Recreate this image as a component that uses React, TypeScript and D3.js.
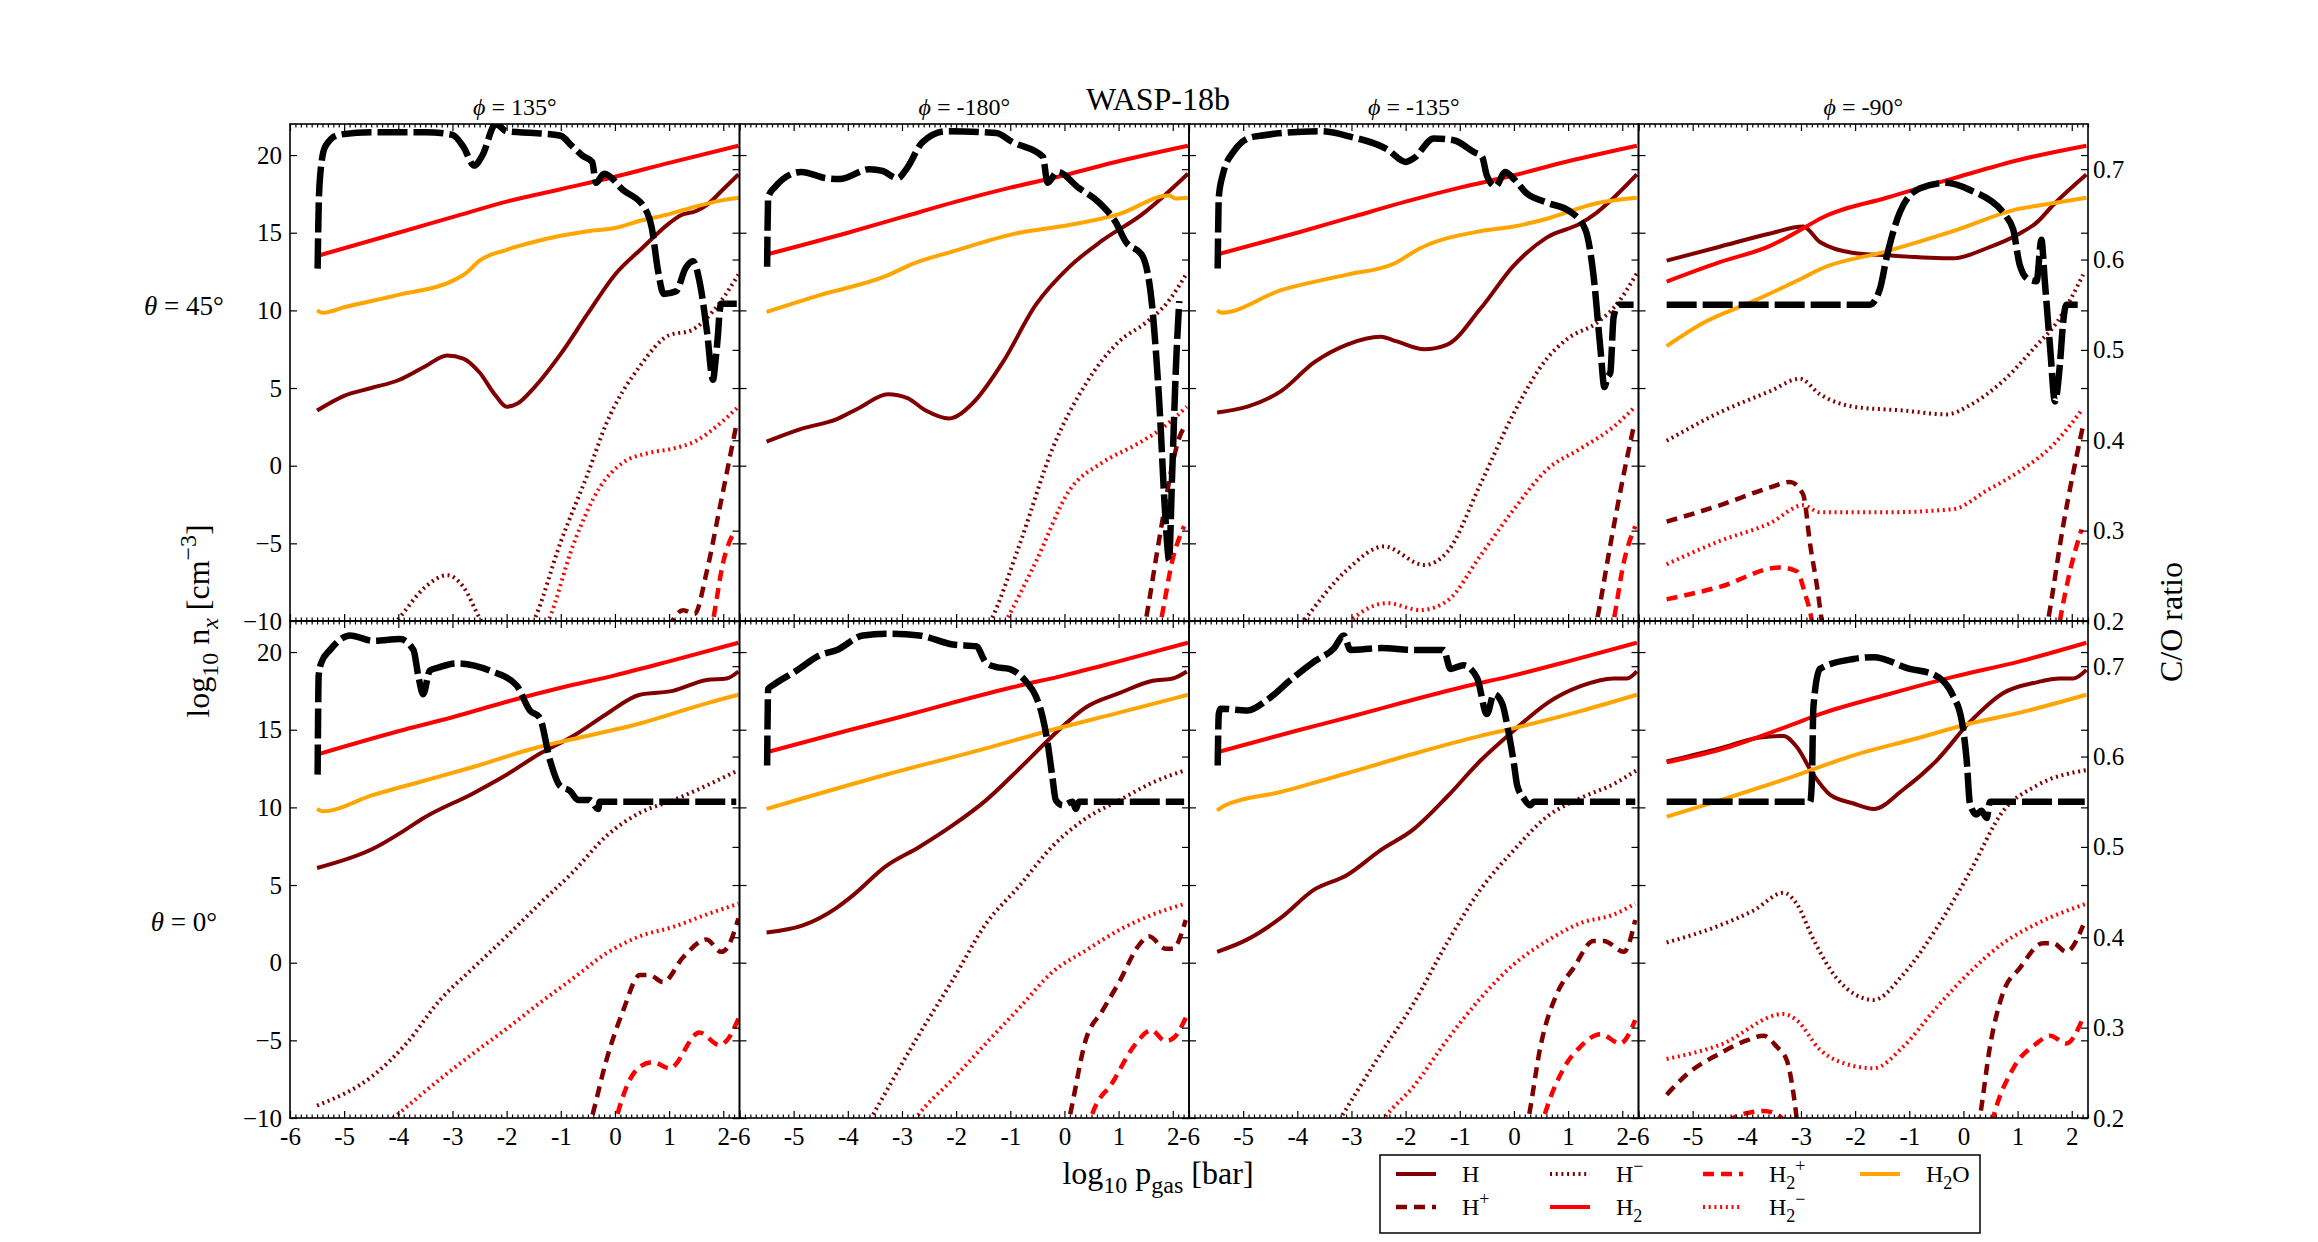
import { useRef, useEffect } from "react";
import * as d3 from "d3";

type Pt = [number, number];

const X_TICKS = [-6, -5, -4, -3, -2, -1, 0, 1, 2];
const Y_TICKS = [-10, -5, 0, 5, 10, 15, 20];
const CO_TICKS = [0.2, 0.3, 0.4, 0.5, 0.6, 0.7];
const PHI_TITLES = ["135°", "-180°", "-135°", "-90°"];
const THETA_LABELS = ["45°", "0°"];

// ---- theta = 45, phi = 135
const H_45_135: Pt[] = [[-5.5, 3.55], [-5, 4.5], [-4.5, 5.0], [-4, 5.5], [-3.5, 6.4], [-3.1, 7.1], [-2.8, 6.9], [-2.5, 6.0], [-2.2, 4.5], [-2.0, 3.8], [-1.8, 4.0], [-1.5, 5.0], [-1, 7.2], [-0.5, 9.8], [0, 12.3], [0.5, 14.0], [1, 15.6], [1.2, 16.1], [1.5, 16.4], [1.7, 16.8], [2, 17.8], [2.28, 18.75]];
const HP_45_135: Pt[] = [[0.85, -11.5], [1.01, -10.3], [1.26, -9.3], [1.47, -9.55], [1.69, -6.9], [1.93, -2.8], [2.24, 2.6]];
const HM_45_135: Pt[] = [[-4.6, -12], [-4.03, -10], [-3.5, -7.8], [-3.1, -7.05], [-2.8, -7.8], [-2.5, -9.8], [-2.2, -11.5], [-1.9, -12], [-1.5, -10], [-1, -4.9], [-0.5, -0.5], [-0.16, 2.7], [0.46, 6.4], [1.0, 8.4], [1.4, 8.7], [1.8, 9.9], [2.28, 12.3]];
const H2_45_135: Pt[] = [[-5.5, 13.5], [-4, 15.0], [-3, 16.0], [-2, 17.0], [-1, 17.8], [0, 18.6], [1, 19.5], [2.28, 20.6]];
const H2P_45_135: Pt[] = [[1.7, -12], [1.81, -10], [2.0, -6.2], [2.21, -4.2]];
const H2M_45_135: Pt[] = [[-1.6, -12], [-1.23, -10], [-0.77, -5.1], [-0.28, -1.4], [0.15, 0.2], [0.6, 0.8], [1.07, 1.1], [1.5, 1.6], [1.9, 2.6], [2.28, 3.8]];
const H2O_45_135: Pt[] = [[-5.5, 10.0], [-5.4, 9.85], [-5, 10.2], [-4, 11.0], [-3, 11.9], [-2.75, 12.4], [-2.5, 13.2], [-2, 13.9], [-1.5, 14.4], [-1, 14.8], [-0.5, 15.1], [0, 15.3], [0.5, 15.8], [1, 16.2], [1.5, 16.7], [2, 17.1], [2.28, 17.25]];
const CO_45_135: Pt[] = [[-5.49, 0.59], [-5.47, 0.66], [-5.44, 0.695], [-5.35, 0.725], [-5.1, 0.738], [-4.5, 0.741], [-3.5, 0.741], [-3, 0.738], [-2.8, 0.725], [-2.6, 0.704], [-2.45, 0.715], [-2.2, 0.75], [-2.0, 0.742], [-1.5, 0.74], [-1.0, 0.737], [-0.8, 0.726], [-0.6, 0.715], [-0.42, 0.708], [-0.35, 0.685], [-0.2, 0.695], [0.15, 0.677], [0.55, 0.657], [0.68, 0.635], [0.8, 0.586], [0.9, 0.562], [1.13, 0.565], [1.3, 0.59], [1.44, 0.598], [1.58, 0.57], [1.7, 0.52], [1.81, 0.467], [1.86, 0.49], [1.9, 0.515], [1.93, 0.54], [1.96, 0.551], [2.25, 0.551]];

// ---- theta = 45, phi = -180
const H_45_m180: Pt[] = [[-5.5, 1.55], [-4.83, 2.4], [-4.2, 3.0], [-3.8, 3.7], [-3.26, 4.6], [-2.9, 4.35], [-2.56, 3.55], [-2.13, 3.04], [-1.7, 4.0], [-1.14, 6.65], [-0.53, 10.35], [0.09, 12.8], [0.7, 14.5], [1.44, 16.2], [2.28, 18.8]];
const HP_45_m180: Pt[] = [[1.4, -12], [1.5, -10], [1.56, -8.8], [1.69, -6.0], [1.81, -3.5], [1.96, -0.5], [2.12, 1.8], [2.24, 2.6]];
const HM_45_m180: Pt[] = [[-1.7, -12], [-1.36, -10], [-0.83, -5.1], [-0.22, 1.1], [0.4, 5.3], [1.01, 8.0], [1.5, 9.2], [1.9, 10.5], [2.26, 12.4]];
const H2_45_m180: Pt[] = [[-5.5, 13.6], [-4, 15.0], [-3, 16.0], [-2, 17.0], [-1, 17.9], [0, 18.7], [1, 19.6], [2.28, 20.6]];
const H2P_45_m180: Pt[] = [[1.65, -12], [1.78, -10], [2.0, -6.0], [2.21, -3.9]];
const H2M_45_m180: Pt[] = [[-1.4, -12], [-1.08, -10], [-0.53, -6.2], [0.09, -1.6], [0.7, 0.2], [1.32, 1.35], [1.8, 2.4], [2.26, 3.8]];
const H2O_45_m180: Pt[] = [[-5.5, 9.9], [-4.5, 11.0], [-3.3, 12.2], [-2.8, 13.0], [-2.06, 13.8], [-0.83, 15.0], [0.09, 15.5], [1.01, 16.2], [1.93, 17.4], [2.05, 17.2], [2.28, 17.25]];
const CO_45_m180: Pt[] = [[-5.49, 0.592], [-5.47, 0.669], [-5.35, 0.68], [-4.86, 0.697], [-4.4, 0.69], [-4.15, 0.689], [-3.6, 0.70], [-3.36, 0.698], [-3.08, 0.69], [-2.92, 0.70], [-2.62, 0.73], [-2.19, 0.742], [-1.26, 0.74], [-0.96, 0.73], [-0.4, 0.714], [-0.31, 0.685], [-0.13, 0.697], [0.27, 0.679], [0.64, 0.663], [0.95, 0.641], [1.13, 0.62], [1.44, 0.604], [1.63, 0.542], [1.75, 0.443], [1.87, 0.309], [1.93, 0.267], [1.99, 0.364], [2.06, 0.483], [2.12, 0.554]];

// ---- theta = 45, phi = -135
const H_45_m135: Pt[] = [[-5.48, 3.43], [-4.92, 3.8], [-4.3, 4.8], [-3.69, 6.65], [-3.08, 7.8], [-2.46, 8.3], [-2.16, 8.0], [-1.66, 7.5], [-1.23, 7.8], [-0.62, 10.1], [0, 12.9], [0.61, 14.7], [1.23, 15.6], [1.53, 16.3], [2.27, 18.75]];
const HP_45_m135: Pt[] = [[1.4, -12], [1.53, -10], [1.78, -5.1], [2.03, -0.5], [2.21, 2.5]];
const HM_45_m135: Pt[] = [[-4.3, -12], [-3.88, -10], [-3.08, -6.7], [-2.4, -5.2], [-1.66, -6.4], [-1.23, -5.55], [-0.62, -1.2], [0, 3.4], [0.61, 6.9], [1.0, 8.2], [1.53, 9.2], [1.9, 10.4], [2.27, 12.4]];
const H2_45_m135: Pt[] = [[-5.48, 13.6], [-4, 15.0], [-3, 16.0], [-2, 17.0], [-1, 17.9], [0, 18.7], [1, 19.6], [2.27, 20.6]];
const H2P_45_m135: Pt[] = [[1.72, -12], [1.84, -10], [2.03, -6.2], [2.24, -3.9]];
const H2M_45_m135: Pt[] = [[-3.4, -11.5], [-3.02, -10], [-2.34, -8.85], [-1.73, -9.3], [-1.23, -8.7], [-0.62, -5.8], [0, -2.8], [0.61, -0.25], [1.23, 1.1], [1.84, 2.5], [2.24, 3.8]];
const H2O_45_m135: Pt[] = [[-5.48, 10.0], [-5.4, 9.85], [-4.3, 11.3], [-3.08, 12.3], [-2.22, 13.0], [-1.73, 14.0], [-0.62, 15.1], [0, 15.4], [0.61, 15.9], [1.53, 16.9], [2.27, 17.25]];
const CO_45_m135: Pt[] = [[-5.47, 0.59], [-5.45, 0.669], [-5.38, 0.693], [-5.17, 0.72], [-4.8, 0.736], [-3.57, 0.742], [-3.02, 0.736], [-2.34, 0.722], [-2.0, 0.708], [-1.85, 0.712], [-1.48, 0.734], [-1.11, 0.732], [-0.74, 0.719], [-0.59, 0.714], [-0.5, 0.693], [-0.34, 0.681], [-0.16, 0.697], [0, 0.689], [0.24, 0.673], [0.61, 0.663], [1.04, 0.653], [1.32, 0.633], [1.47, 0.582], [1.6, 0.499], [1.67, 0.459], [1.73, 0.47], [1.78, 0.475], [1.84, 0.536], [1.93, 0.55], [2.21, 0.55]];

// ---- theta = 45, phi = -90
const H_45_m90: Pt[] = [[-5.48, 13.2], [-4.5, 14.1], [-3.57, 14.95], [-2.96, 15.4], [-2.65, 14.4], [-2.03, 13.7], [-1.42, 13.55], [-0.19, 13.35], [0.43, 14.0], [1.04, 14.95], [1.35, 15.65], [1.66, 16.8], [2.27, 18.75]];
const HP_45_m90: Pt[] = [[-5.48, -3.6], [-4.5, -2.55], [-3.57, -1.4], [-3.2, -1.05], [-2.96, -1.85], [-2.83, -5.1], [-2.7, -7.85], [-2.62, -9.9], [-2.5, -13], [-2.3, -16], [1.3, -16], [1.45, -12], [1.56, -10], [1.84, -3.9], [2.21, 2.6]];
const HM_45_m90: Pt[] = [[-5.48, 1.6], [-4.5, 3.43], [-3.57, 4.8], [-3.02, 5.6], [-2.65, 4.6], [-2.03, 3.8], [-1.11, 3.55], [-0.31, 3.3], [0.12, 3.9], [0.73, 5.45], [1.35, 7.75], [1.72, 9.2], [2.21, 12.3]];
const H2_45_m90: Pt[] = [[-5.48, 11.85], [-4.5, 13.1], [-3.57, 14.15], [-2.9, 15.4], [-2.65, 15.9], [-1.42, 17.25], [-0.19, 18.5], [1.04, 19.7], [2.27, 20.6]];
const H2P_45_m90: Pt[] = [[-5.48, -8.6], [-4.5, -7.8], [-3.39, -6.55], [-3.08, -6.8], [-2.92, -8.3], [-2.8, -10], [-2.7, -13], [-2.5, -16], [1.5, -16], [1.68, -12], [1.78, -10], [1.96, -6.9], [2.18, -4.1]];
const H2M_45_m90: Pt[] = [[-5.48, -6.35], [-4.5, -4.85], [-3.57, -3.7], [-2.96, -2.55], [-2.65, -3.0], [-1.42, -3.0], [-0.19, -2.8], [0.43, -1.6], [1.04, -0.35], [1.66, 1.35], [2.18, 3.55]];
const H2O_45_m90: Pt[] = [[-5.48, 7.7], [-4.8, 9.2], [-3.88, 10.6], [-2.96, 12.1], [-2.65, 12.65], [-1.42, 13.8], [-0.19, 15.1], [1.04, 16.55], [1.47, 16.8], [2.27, 17.25]];
const CO_45_m90: Pt[] = [[-5.48, 0.55], [-1.73, 0.55], [-1.54, 0.568], [-1.42, 0.602], [-1.17, 0.653], [-0.8, 0.679], [-0.31, 0.685], [0.12, 0.677], [0.8, 0.647], [0.92, 0.633], [1.04, 0.594], [1.2, 0.578], [1.35, 0.576], [1.44, 0.622], [1.5, 0.578], [1.6, 0.503], [1.69, 0.443], [1.78, 0.483], [1.84, 0.53], [1.9, 0.55], [2.21, 0.55]];

// ---- theta = 0, phi = 135
const H_0_135: Pt[] = [[-5.5, 6.1], [-4.46, 7.35], [-3.85, 8.6], [-3.54, 9.3], [-2.62, 10.9], [-2.0, 12.1], [-1.39, 13.45], [-0.77, 14.6], [-0.16, 16.0], [0.46, 17.25], [1.07, 17.5], [1.69, 18.2], [2.06, 18.3], [2.28, 18.75]];
const HP_0_135: Pt[] = [[-0.6, -12], [-0.43, -10], [-0.16, -6.3], [0.15, -3.1], [0.46, -0.8], [0.64, -0.8], [0.89, -1.25], [1.26, 0.35], [1.69, 1.5], [1.96, 0.7], [2.06, 0.9], [2.28, 2.85]];
const HM_0_135: Pt[] = [[-5.5, -9.2], [-4.46, -7.25], [-3.85, -5.2], [-3.23, -2.4], [-2.62, -0.35], [-2.0, 1.7], [-1.39, 3.8], [-0.77, 5.85], [-0.16, 8.15], [0.46, 9.65], [1.07, 10.45], [1.69, 11.4], [2.28, 12.4]];
const H2_0_135: Pt[] = [[-5.5, 13.4], [-4, 14.9], [-3, 15.8], [-2, 16.8], [-1, 17.7], [0, 18.5], [1, 19.4], [2.28, 20.6]];
const H2P_0_135: Pt[] = [[-0.1, -12], [0.03, -10], [0.46, -6.7], [0.7, -6.4], [1.01, -6.8], [1.56, -4.5], [1.93, -5.3], [2.09, -4.9], [2.28, -3.6]];
const H2M_0_135: Pt[] = [[-4.5, -11.2], [-4.09, -10], [-3.23, -7.5], [-2.62, -5.85], [-2.0, -4.25], [-1.39, -2.6], [-0.77, -1.0], [-0.16, 0.6], [0.46, 1.7], [1.07, 2.3], [1.69, 3.1], [2.28, 3.8]];
const H2O_0_135: Pt[] = [[-5.5, 9.9], [-5.4, 9.75], [-4.46, 10.8], [-3.54, 11.7], [-2.62, 12.6], [-1.39, 13.9], [-0.77, 14.4], [0.46, 15.4], [1.69, 16.7], [2.28, 17.25]];
const CO_0_135: Pt[] = [[-5.49, 0.58], [-5.47, 0.69], [-5.42, 0.704], [-5.26, 0.718], [-4.89, 0.734], [-4.46, 0.728], [-3.97, 0.73], [-3.72, 0.718], [-3.63, 0.689], [-3.54, 0.669], [-3.42, 0.695], [-3.23, 0.699], [-2.92, 0.703], [-2.31, 0.695], [-1.82, 0.679], [-1.57, 0.651], [-1.39, 0.643], [-1.2, 0.596], [-1.02, 0.568], [-0.83, 0.562], [-0.68, 0.552], [-0.47, 0.552], [-0.31, 0.542], [-0.28, 0.55], [2.24, 0.55]];

// ---- theta = 0, phi = -180
const H_0_m180: Pt[] = [[-5.5, 1.95], [-4.83, 2.4], [-4.2, 3.55], [-3.9, 4.35], [-3.3, 6.2], [-2.68, 7.45], [-2.06, 8.85], [-1.45, 10.45], [-0.83, 12.5], [-0.22, 14.6], [0.4, 16.45], [1.01, 17.35], [1.63, 18.15], [2.0, 18.3], [2.26, 18.75]];
const HP_0_m180: Pt[] = [[-0.05, -12], [0.09, -10], [0.4, -4.9], [0.7, -3.1], [1.01, -1.25], [1.38, 1.15], [1.56, 1.7], [1.87, 0.9], [2.0, 0.9], [2.24, 2.75]];
const HM_0_m180: Pt[] = [[-3.9, -12], [-3.57, -10], [-2.68, -4.6], [-2.06, -1.1], [-1.45, 2.5], [-0.83, 4.95], [-0.22, 7.5], [0.4, 9.3], [1.01, 10.45], [1.63, 11.6], [2.24, 12.4]];
const H2_0_m180: Pt[] = [[-5.5, 13.55], [-4, 14.95], [-3, 15.85], [-2, 16.8], [-1, 17.7], [0, 18.5], [1, 19.4], [2.28, 20.6]];
const H2P_0_m180: Pt[] = [[0.35, -12], [0.49, -10], [0.89, -7.7], [1.32, -5.2], [1.6, -4.35], [1.87, -5.05], [2.03, -4.8], [2.24, -3.55]];
const H2M_0_m180: Pt[] = [[-3.1, -12], [-2.74, -10], [-2.06, -7.5], [-1.45, -5.2], [-0.83, -2.9], [-0.22, -0.6], [0.4, 0.8], [1.01, 2.1], [1.63, 3.1], [2.24, 3.8]];
const H2O_0_m180: Pt[] = [[-5.5, 9.9], [-3.3, 12.1], [-1.45, 13.8], [-0.22, 15.0], [1.01, 16.1], [2.28, 17.25]];
const CO_0_m180: Pt[] = [[-5.49, 0.59], [-5.47, 0.675], [-5.38, 0.679], [-4.95, 0.695], [-4.52, 0.712], [-4.2, 0.718], [-3.72, 0.734], [-3.3, 0.736], [-2.68, 0.734], [-2.06, 0.724], [-1.63, 0.722], [-1.45, 0.704], [-1.26, 0.699], [-1.02, 0.697], [-0.71, 0.683], [-0.53, 0.667], [-0.4, 0.643], [-0.31, 0.615], [-0.22, 0.576], [-0.16, 0.552], [-0.03, 0.546], [0.15, 0.55], [0.21, 0.542], [0.27, 0.55], [2.21, 0.55]];

// ---- theta = 0, phi = -135
const H_0_m135: Pt[] = [[-5.48, 0.7], [-4.92, 1.5], [-4.3, 2.9], [-3.69, 4.7], [-3.08, 5.65], [-2.46, 7.25], [-1.85, 8.6], [-1.23, 10.7], [-0.62, 13.0], [0, 14.95], [0.61, 16.7], [1.23, 17.8], [1.84, 18.3], [2.09, 18.3], [2.27, 18.75]];
const HP_0_m135: Pt[] = [[0.15, -12], [0.27, -10], [0.49, -5.4], [0.8, -1.95], [1.1, -0.35], [1.47, 1.4], [1.66, 1.4], [2.03, 0.7], [2.24, 2.75]];
const HM_0_m135: Pt[] = [[-3.55, -12], [-3.2, -10], [-2.46, -5.85], [-1.85, -2.6], [-1.23, 1.3], [-0.62, 4.7], [0, 7.25], [0.61, 9.4], [1.23, 10.6], [1.84, 11.5], [2.27, 12.4]];
const H2_0_m135: Pt[] = [[-5.48, 13.55], [-4, 14.95], [-3, 15.85], [-2, 16.8], [-1, 17.7], [0, 18.5], [1, 19.4], [2.27, 20.6]];
const H2P_0_m135: Pt[] = [[0.4, -12], [0.55, -10], [0.92, -6.8], [1.23, -5.4], [1.6, -4.6], [1.96, -5.2], [2.24, -3.7]];
const H2M_0_m135: Pt[] = [[-2.8, -12], [-2.4, -10], [-1.85, -7.95], [-1.23, -4.95], [-0.62, -2.3], [0, -0.1], [0.61, 1.4], [1.23, 2.55], [1.84, 3.1], [2.24, 3.8]];
const H2O_0_m135: Pt[] = [[-5.48, 9.8], [-5.35, 10.1], [-4.3, 11.0], [-3.08, 12.2], [-1.85, 13.45], [-0.62, 14.6], [0, 15.1], [1.23, 16.2], [2.27, 17.25]];
const CO_0_m135: Pt[] = [[-5.47, 0.59], [-5.45, 0.647], [-5.42, 0.653], [-4.92, 0.651], [-4.55, 0.663], [-4.12, 0.685], [-3.69, 0.705], [-3.32, 0.72], [-3.14, 0.734], [-3.02, 0.718], [-2.46, 0.72], [-1.85, 0.718], [-1.3, 0.718], [-1.17, 0.697], [-0.93, 0.701], [-0.68, 0.687], [-0.5, 0.647], [-0.37, 0.669], [-0.22, 0.659], [-0.1, 0.627], [0, 0.592], [0.06, 0.568], [0.18, 0.554], [0.3, 0.546], [0.37, 0.55], [2.24, 0.55]];

// ---- theta = 0, phi = -90
const H_0_m90: Pt[] = [[-5.48, 12.95], [-4.5, 13.8], [-3.76, 14.5], [-3.32, 14.6], [-3.08, 13.9], [-2.77, 12.1], [-2.46, 10.8], [-2.03, 10.25], [-1.66, 9.9], [-1.11, 11.15], [-0.5, 13.0], [0.12, 15.5], [0.73, 17.35], [1.35, 18.05], [1.78, 18.3], [2.03, 18.3], [2.27, 18.85]];
const HP_0_m90: Pt[] = [[-5.48, -8.5], [-5.11, -7.2], [-4.5, -5.85], [-4.0, -5.0], [-3.69, -4.7], [-3.45, -5.4], [-3.26, -6.3], [-3.14, -8.4], [-3.08, -10], [-3.0, -13], [-2.8, -16], [0.0, -16], [0.18, -12], [0.3, -10], [0.49, -5.4], [0.73, -1.95], [1.04, -0.35], [1.47, 1.25], [1.66, 1.25], [1.9, 0.7], [2.21, 2.4]];
const HM_0_m90: Pt[] = [[-5.48, 1.3], [-4.5, 2.4], [-3.88, 3.35], [-3.32, 4.5], [-3.08, 3.8], [-2.77, 1.5], [-2.34, -1.0], [-1.66, -2.4], [-1.11, -0.75], [-0.5, 2.2], [0.12, 5.85], [0.73, 9.75], [1.35, 11.4], [2.27, 12.4]];
const H2_0_m90: Pt[] = [[-5.48, 12.9], [-4.5, 13.7], [-3.26, 15.2], [-2.65, 16.0], [-1.42, 17.25], [-0.19, 18.4], [1.04, 19.4], [2.27, 20.6]];
const H2P_0_m90: Pt[] = [[-5.48, -16], [-4.6, -12], [-4.25, -10], [-3.94, -9.65], [-3.69, -9.55], [-3.39, -9.9], [-3.2, -11], [-2.9, -16], [0.2, -16], [0.42, -12], [0.55, -10], [0.92, -6.8], [1.35, -5.2], [1.6, -4.7], [1.9, -5.2], [2.21, -3.55]];
const H2M_0_m90: Pt[] = [[-5.48, -6.2], [-4.5, -5.3], [-3.32, -3.3], [-3.08, -3.7], [-2.65, -5.6], [-2.34, -6.3], [-1.66, -6.8], [-1.11, -5.4], [-0.5, -2.9], [0.12, -0.6], [0.73, 1.25], [1.35, 2.5], [2.27, 3.8]];
const H2O_0_m90: Pt[] = [[-5.48, 9.4], [-4.5, 10.45], [-3.26, 11.85], [-2.03, 13.35], [-0.8, 14.5], [0.12, 15.4], [1.04, 16.1], [2.27, 17.25]];
const CO_0_m90: Pt[] = [[-5.48, 0.55], [-2.83, 0.55], [-2.8, 0.57], [-2.77, 0.655], [-2.65, 0.697], [-2.03, 0.708], [-1.66, 0.71], [-0.99, 0.697], [-0.56, 0.691], [-0.19, 0.667], [-0.03, 0.639], [0.06, 0.596], [0.12, 0.548], [0.24, 0.536], [0.33, 0.54], [0.43, 0.532], [0.49, 0.55], [2.24, 0.55]];

type Panel = { row: number; col: number; series: Record<string, Pt[]>; co: Pt[] };

const PANELS: Panel[] = [
  { row: 0, col: 0, series: { H: H_45_135, Hp: HP_45_135, Hm: HM_45_135, H2: H2_45_135, H2p: H2P_45_135, H2m: H2M_45_135, H2O: H2O_45_135 }, co: CO_45_135 },
  { row: 0, col: 1, series: { H: H_45_m180, Hp: HP_45_m180, Hm: HM_45_m180, H2: H2_45_m180, H2p: H2P_45_m180, H2m: H2M_45_m180, H2O: H2O_45_m180 }, co: CO_45_m180 },
  { row: 0, col: 2, series: { H: H_45_m135, Hp: HP_45_m135, Hm: HM_45_m135, H2: H2_45_m135, H2p: H2P_45_m135, H2m: H2M_45_m135, H2O: H2O_45_m135 }, co: CO_45_m135 },
  { row: 0, col: 3, series: { H: H_45_m90, Hp: HP_45_m90, Hm: HM_45_m90, H2: H2_45_m90, H2p: H2P_45_m90, H2m: H2M_45_m90, H2O: H2O_45_m90 }, co: CO_45_m90 },
  { row: 1, col: 0, series: { H: H_0_135, Hp: HP_0_135, Hm: HM_0_135, H2: H2_0_135, H2p: H2P_0_135, H2m: H2M_0_135, H2O: H2O_0_135 }, co: CO_0_135 },
  { row: 1, col: 1, series: { H: H_0_m180, Hp: HP_0_m180, Hm: HM_0_m180, H2: H2_0_m180, H2p: H2P_0_m180, H2m: H2M_0_m180, H2O: H2O_0_m180 }, co: CO_0_m180 },
  { row: 1, col: 2, series: { H: H_0_m135, Hp: HP_0_m135, Hm: HM_0_m135, H2: H2_0_m135, H2p: H2P_0_m135, H2m: H2M_0_m135, H2O: H2O_0_m135 }, co: CO_0_m135 },
  { row: 1, col: 3, series: { H: H_0_m90, Hp: HP_0_m90, Hm: HM_0_m90, H2: H2_0_m90, H2p: H2P_0_m90, H2m: H2M_0_m90, H2O: H2O_0_m90 }, co: CO_0_m90 },
];

type Part = { t: string; sub?: boolean; sup?: boolean; it?: boolean };

const DARKRED = "#800000";
const RED = "#ff0000";
const ORANGE = "#ffa500";
const DASH = "11,7";
const DOT = "2,3.7";

const SPECIES = [
  { key: "H", color: DARKRED, width: 4, dash: null as string | null, label: [{ t: "H" }] as Part[] },
  { key: "Hp", color: DARKRED, width: 4.5, dash: DASH, label: [{ t: "H" }, { t: "+", sup: true }] },
  { key: "Hm", color: DARKRED, width: 4, dash: DOT, label: [{ t: "H" }, { t: "−", sup: true }] },
  { key: "H2", color: RED, width: 4, dash: null, label: [{ t: "H" }, { t: "2", sub: true }] },
  { key: "H2p", color: RED, width: 4.5, dash: DASH, label: [{ t: "H" }, { t: "2", sub: true }, { t: "+", sup: true }] },
  { key: "H2m", color: RED, width: 4, dash: DOT, label: [{ t: "H" }, { t: "2", sub: true }, { t: "−", sup: true }] },
  { key: "H2O", color: ORANGE, width: 4, dash: null, label: [{ t: "H" }, { t: "2", sub: true }, { t: "O" }] },
];

const FONT = "'Liberation Serif', 'DejaVu Serif', serif";
const W = 2318;
const HGT = 1242;
const LEFT = 290;
const PW = 449.5;
const TOPS = [124, 621];
const PH = 497;
const TICK_FS = 25;

function rich(sel: any, parts: Part[], size: number) {
  let shift = 0;
  parts.forEach((p) => {
    const target = p.sub ? size * 0.28 : p.sup ? -size * 0.42 : 0;
    sel.append("tspan")
      .attr("dy", target - shift)
      .attr("font-size", p.sub || p.sup ? size * 0.75 : size)
      .attr("font-style", p.it ? "italic" : null)
      .text(p.t);
    shift = target;
  });
}

export default function App() {
  const svgRef = useRef<SVGSVGElement>(null);

  useEffect(() => {
    if (!svgRef.current) return;
    const svg = d3.select(svgRef.current);
    svg.selectAll("*").remove();
    const defs = svg.append("defs");

    const minor = d3.range(-60, 24).map((v) => v / 10).filter((v) => !Number.isInteger(v));
    const minusFmt = (d: any) => (d < 0 ? "−" + Math.abs(d) : String(d));

    PANELS.forEach((p, i) => {
      const x0 = LEFT + p.col * PW;
      const y0 = TOPS[p.row];
      const x = d3.scaleLinear().domain([-6, 2.3]).range([x0, x0 + PW]);
      const y = d3.scaleLinear().domain([-10, 22]).range([y0 + PH, y0]);
      const yr = d3.scaleLinear().domain([0.2, 0.75]).range([y0 + PH, y0]);

      defs.append("clipPath").attr("id", `clip${i}`)
        .append("rect").attr("x", x0).attr("y", y0).attr("width", PW).attr("height", PH);
      const g = svg.append("g").attr("clip-path", `url(#clip${i})`);

      const line = d3.line<Pt>().x((d) => x(d[0])).y((d) => y(d[1])).curve(d3.curveMonotoneX);
      SPECIES.forEach((s) => {
        g.append("path")
          .attr("d", line(p.series[s.key]))
          .attr("fill", "none")
          .attr("stroke", s.color)
          .attr("stroke-width", s.width)
          .attr("stroke-dasharray", s.dash);
      });

      // C/O ratio on the twin axis
      const coLine = d3.line<Pt>().x((d) => x(d[0])).y((d) => yr(d[1])).curve(d3.curveMonotoneX);
      g.append("path")
        .attr("d", coLine(p.co))
        .attr("fill", "none")
        .attr("stroke", "#000")
        .attr("stroke-width", 6.5)
        .attr("stroke-dasharray", "30,6");

      const style = (ax: any) => {
        ax.select(".domain").remove();
        ax.attr("font-size", TICK_FS).attr("font-family", FONT);
        ax.selectAll("line").attr("stroke", "#000").attr("stroke-width", 1.2);
        ax.selectAll("text").attr("fill", "#000");
      };
      const none = () => "";

      svg.append("g").attr("transform", `translate(0,${y0 + PH})`)
        .call(d3.axisBottom(x).tickValues(X_TICKS).tickSize(-7).tickPadding(9)
          .tickFormat(p.row === 1 ? (d: any) => String(d) : none))
        .call(style);
      svg.append("g").attr("transform", `translate(0,${y0 + PH})`)
        .call(d3.axisBottom(x).tickValues(minor).tickSize(-3.5).tickFormat(none)).call(style);
      svg.append("g").attr("transform", `translate(0,${y0})`)
        .call(d3.axisTop(x).tickValues(X_TICKS).tickSize(-7).tickFormat(none)).call(style);
      svg.append("g").attr("transform", `translate(0,${y0})`)
        .call(d3.axisTop(x).tickValues(minor).tickSize(-3.5).tickFormat(none)).call(style);
      svg.append("g").attr("transform", `translate(${x0},0)`)
        .call(d3.axisLeft(y).tickValues(Y_TICKS).tickSize(-7).tickPadding(8)
          .tickFormat(p.col === 0 ? minusFmt : none))
        .call(style);
      svg.append("g").attr("transform", `translate(${x0 + PW},0)`)
        .call(d3.axisRight(y).tickValues(Y_TICKS).tickSize(-7).tickFormat(none)).call(style);
      svg.append("g").attr("transform", `translate(${x0 + PW},0)`)
        .call(d3.axisRight(yr).tickValues(CO_TICKS).tickSize(-7).tickPadding(5)
          .tickFormat(p.col === 3 ? (d: any) => d3.format(".1f")(d) : none))
        .call(style);

      svg.append("rect")
        .attr("x", x0).attr("y", y0).attr("width", PW).attr("height", PH)
        .attr("fill", "none").attr("stroke", "#000").attr("stroke-width", 1.6);

      if (p.row === 0) {
        const t = svg.append("text")
          .attr("x", x0 + PW / 2).attr("y", 115)
          .attr("text-anchor", "middle")
          .attr("font-family", FONT).attr("font-size", 24)
          .style("white-space", "pre");
        rich(t, [{ t: "ϕ", it: true }, { t: " = " + PHI_TITLES[p.col] }], 24);
      }
    });

    // suptitle
    svg.append("text").attr("x", 1158).attr("y", 110).attr("text-anchor", "middle")
      .attr("font-family", FONT).attr("font-size", 32).text("WASP-18b");

    // row labels
    [315, 931].forEach((yy, r) => {
      const t = svg.append("text").attr("x", 184).attr("y", yy).attr("text-anchor", "middle")
        .attr("font-family", FONT).attr("font-size", 27).style("white-space", "pre");
      rich(t, [{ t: "θ", it: true }, { t: " = " + THETA_LABELS[r] }], 27);
    });

    // axis labels
    const yl = svg.append("text").attr("transform", "translate(209,621) rotate(-90)")
      .attr("text-anchor", "middle").attr("font-family", FONT).attr("font-size", 32)
      .style("white-space", "pre");
    rich(yl, [{ t: "log" }, { t: "10", sub: true }, { t: " n" }, { t: "x", sub: true, it: true }, { t: " [cm" }, { t: "−3", sup: true }, { t: "]" }], 32);

    const xl = svg.append("text").attr("x", 1158).attr("y", 1184)
      .attr("text-anchor", "middle").attr("font-family", FONT).attr("font-size", 32)
      .style("white-space", "pre");
    rich(xl, [{ t: "log" }, { t: "10", sub: true }, { t: " p" }, { t: "gas", sub: true }, { t: " [bar]" }], 32);

    svg.append("text").attr("transform", "translate(2182,622) rotate(-90)")
      .attr("text-anchor", "middle").attr("font-family", FONT).attr("font-size", 32)
      .text("C/O ratio");

    // legend
    const lg = svg.append("g");
    lg.append("rect").attr("x", 1380).attr("y", 1155).attr("width", 600).attr("height", 78)
      .attr("fill", "#fff").attr("stroke", "#000").attr("stroke-width", 1.5);
    const colX = [1396, 1550, 1703, 1860];
    const rowY = [1174, 1207];
    SPECIES.forEach((s, k) => {
      const cx = colX[Math.floor(k / 2)];
      const cy = rowY[k % 2];
      lg.append("line").attr("x1", cx).attr("x2", cx + 40).attr("y1", cy).attr("y2", cy)
        .attr("stroke", s.color).attr("stroke-width", s.width).attr("stroke-dasharray", s.dash);
      const t = lg.append("text").attr("x", cx + 66).attr("y", cy + 8)
        .attr("font-family", FONT).attr("font-size", 24);
      rich(t, s.label, 24);
    });
  }, []);

  return (
    <svg
      ref={svgRef}
      width={W}
      height={HGT}
      style={{ position: "absolute", left: 0, top: 0, background: "#fff" }}
    />
  );
}
